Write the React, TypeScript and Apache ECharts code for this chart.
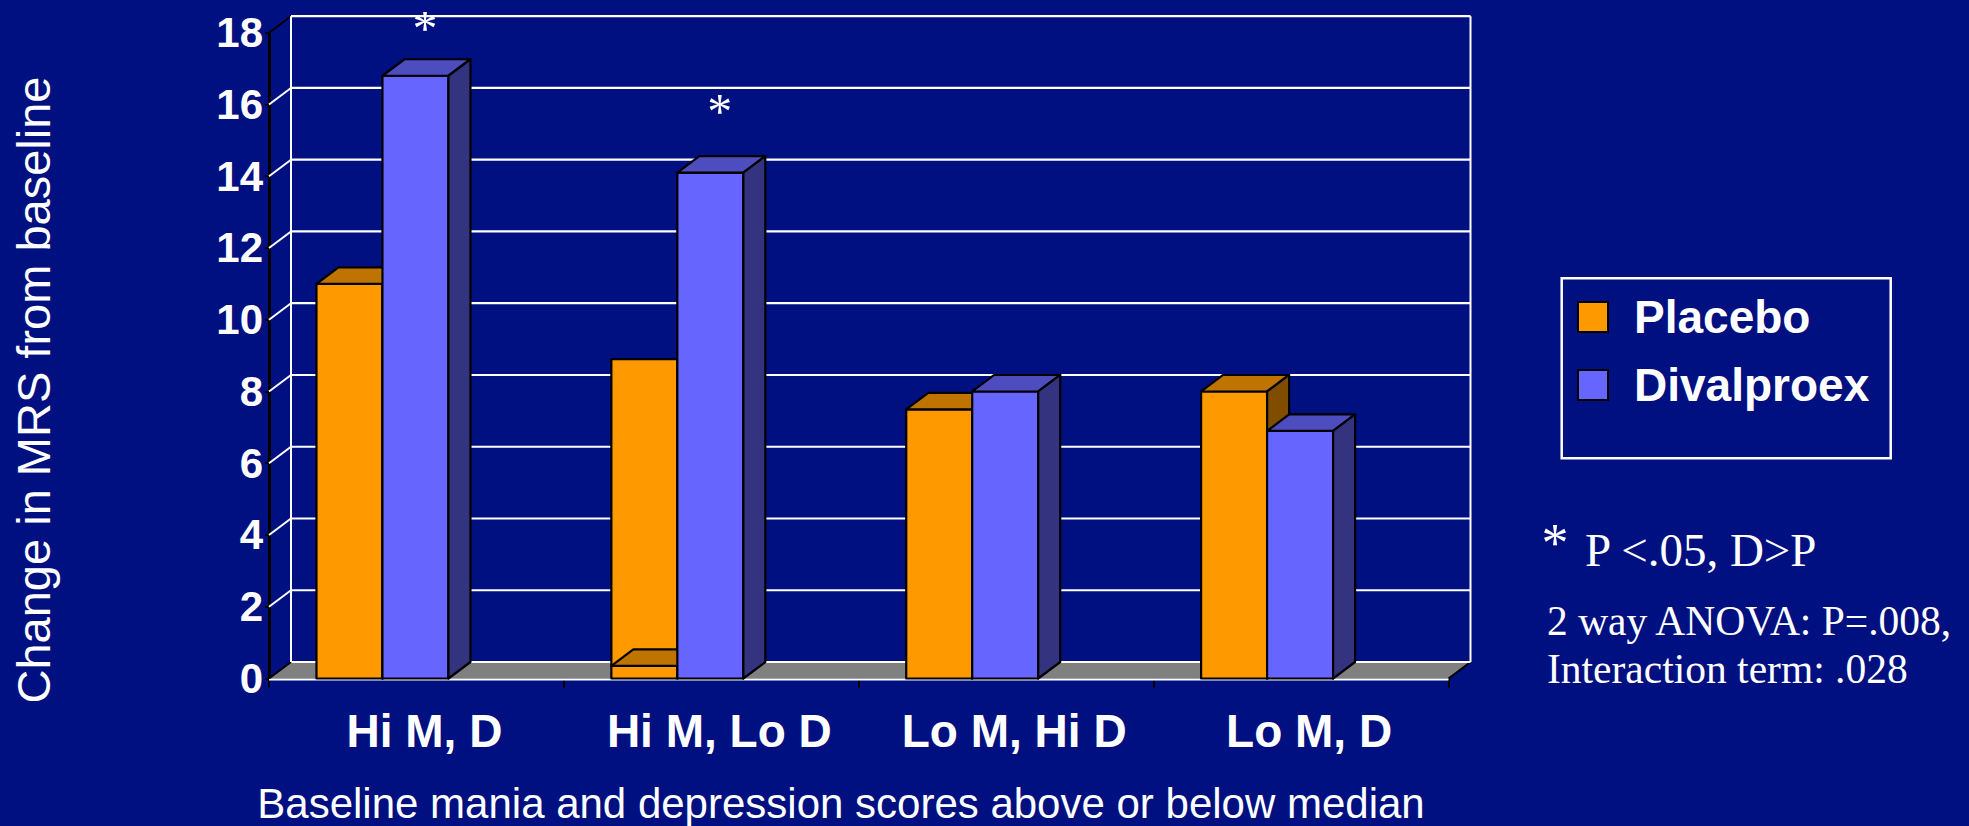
import React, { useEffect, useRef } from 'react';
import * as echarts from 'echarts';

const categories = ['Hi M, D', 'Hi M, Lo D', 'Lo M, Hi D', 'Lo M, D'];
const placebo = [11.0, 8.9, 7.5, 8.0];
// level at which the top face of each placebo bar is drawn (the 2nd is drawn near the floor in the original)
const placeboTopFace = [11.0, 0.35, 7.5, 8.0];
const divalproex = [16.8, 14.1, 8.0, 6.9];
const yTicks = [0, 2, 4, 6, 8, 10, 12, 14, 16, 18];
const asteriskCategory = [0, 1];
const asteriskLevel = [18.3, 16.0];
const seriesNames = ['Placebo', 'Divalproex'];
const yTitle = 'Change in MRS from baseline';
const xTitle = 'Baseline mania and depression scores above or below median';
const noteStar = '*';
const noteLines = ['P <.05, D>P', '2 way ANOVA: P=.008,', 'Interaction term: .028'];

const BG = '#001080';
const DX = 22;
const DY = -16.5;
const SANS = '"Liberation Sans", Arial, sans-serif';
const SERIF = '"Liberation Serif", "Times New Roman", serif';

const COLORS = [
  { front: '#FF9900', top: '#BF7300', side: '#7F4C00' },
  { front: '#6666FF', top: '#4D4DBF', side: '#333380' },
];

function makeBar(slot: number) {
  const c = COLORS[slot];
  return (params: any, api: any) => {
    const i = api.value(0);
    const v = api.value(1);
    const cap = api.value(2);
    const base = api.coord([i, 0]);
    const cx = base[0];
    const y0 = base[1];
    const yt = api.coord([i, v])[1];
    const yc = api.coord([i, cap])[1];
    const band = api.size([1, 0])[0];
    const w = band * 0.2238;
    const xl = cx - band * 0.339 + slot * w;
    const xr = xl + w;
    const stroke = { stroke: '#000', lineWidth: 2.2, lineJoin: 'round' };
    const children: any[] = [
      { type: 'rect', shape: { x: xl, y: yt, width: w, height: y0 - yt }, style: { fill: c.front, ...stroke } },
    ];
    if (Math.abs(cap - v) > 1e-6) {
      children.push({ type: 'line', shape: { x1: xl, y1: yc, x2: xr, y2: yc }, style: { ...stroke } });
    }
    children.push({
      type: 'polygon',
      shape: { points: [[xl, yc], [xr, yc], [xr + DX, yc + DY], [xl + DX, yc + DY]] },
      style: { fill: c.top, ...stroke },
    });
    children.push({
      type: 'polygon',
      shape: { points: [[xr, yc], [xr + DX, yc + DY], [xr + DX, y0 + DY], [xr, y0]] },
      style: { fill: c.side, ...stroke },
    });
    return { type: 'group', children };
  };
}

function wallItem(params: any, api: any) {
  const cs = params.coordSys;
  const v = api.value(1);
  const y = api.coord([0, v])[1];
  const x0 = cs.x;
  const x1 = cs.x + cs.width;
  const vMin = yTicks[0];
  const vMax = yTicks[yTicks.length - 1];
  const children: any[] = [];
  if (v === vMin) {
    children.push({
      type: 'polygon',
      shape: { points: [[x0, y], [x1, y], [x1 + DX, y + DY], [x0 + DX, y + DY]] },
      style: { fill: '#808080' },
    });
    children.push({ type: 'line', shape: { x1: x1, y1: y, x2: x1 + DX, y2: y + DY }, style: { stroke: '#000', lineWidth: 2 } });
    children.push({ type: 'line', shape: { x1: x0, y1: y + 1, x2: x1, y2: y + 1 }, style: { stroke: '#fff', lineWidth: 2 } });
  }
  children.push({
    type: 'line',
    shape: { x1: x0 + DX, y1: y + DY, x2: x1 + DX, y2: y + DY },
    style: { stroke: '#fff', lineWidth: 2.2 },
  });
  children.push({
    type: 'line',
    shape: { x1: x0, y1: y, x2: x0 + DX, y2: y + DY },
    style: { stroke: v === vMin || v === vMax ? '#000' : '#fff', lineWidth: 2 },
  });
  if (v === vMax) {
    const yb = api.coord([0, vMin])[1] + DY;
    children.push({ type: 'line', shape: { x1: x0 + DX, y1: y + DY, x2: x0 + DX, y2: yb }, style: { stroke: '#fff', lineWidth: 2 } });
    children.push({ type: 'line', shape: { x1: x1 + DX, y1: y + DY, x2: x1 + DX, y2: yb }, style: { stroke: '#fff', lineWidth: 2 } });
  }
  return { type: 'group', children };
}

function asteriskItem(params: any, api: any) {
  const p = api.coord([api.value(0), api.value(1)]);
  return {
    type: 'text',
    x: p[0] + 8.5,
    y: p[1] + 6.5,
    style: {
      text: '*',
      fill: '#fff',
      font: `50px ${SERIF}`,
      lineHeight: 26,
      align: 'center',
      verticalAlign: 'middle',
      textAlign: 'center',
      textVerticalAlign: 'middle',
    },
  };
}

export default function App() {
  const ref = useRef<HTMLDivElement>(null);
  useEffect(() => {
    document.body.style.margin = '0';
    document.body.style.background = BG;
    const chart = echarts.init(ref.current!, null, { renderer: 'svg' });
    const option: any = {
      animation: false,
      backgroundColor: BG,
      grid: { left: 269, top: 32.7, width: 1179.5, height: 645.8, containLabel: false },
      legend: {
        data: seriesNames,
        orient: 'vertical',
        left: 1577,
        top: 294,
        padding: 0,
        itemWidth: 30,
        itemHeight: 30,
        itemGap: 22,
        icon: 'rect',
        selectedMode: false,
        itemStyle: { borderColor: '#000', borderWidth: 2 },
        textStyle: {
          color: '#fff',
          fontSize: 46,
          fontWeight: 'bold',
          fontFamily: SANS,
          lineHeight: 46,
          padding: [0, 0, 0, 21],
        },
      },
      xAxis: {
        type: 'category',
        data: categories,
        boundaryGap: true,
        axisLine: { show: false },
        axisTick: { show: true, interval: 0, length: 9, lineStyle: { color: '#000', width: 2 } },
        axisLabel: {
          interval: 0,
          color: '#fff',
          fontSize: 46,
          fontWeight: 'bold',
          fontFamily: SANS,
          margin: 52,
          verticalAlign: 'middle',
          padding: [0, 0, 0, 16],
        },
        splitLine: { show: false },
      },
      yAxis: {
        type: 'value',
        min: yTicks[0],
        max: yTicks[yTicks.length - 1],
        interval: yTicks[1] - yTicks[0],
        axisLine: { show: true, lineStyle: { color: '#000', width: 3 } },
        axisTick: { show: true, length: 4, lineStyle: { color: '#000', width: 2 } },
        axisLabel: { color: '#fff', fontSize: 42, fontWeight: 'bold', fontFamily: SANS, margin: 6 },
        splitLine: { show: false },
      },
      series: [
        {
          type: 'custom',
          name: 'wall',
          silent: true,
          renderItem: wallItem,
          encode: { x: 0, y: 1 },
          data: yTicks.map((v) => [0, v]),
          z: 1,
        },
        {
          type: 'custom',
          name: seriesNames[0],
          renderItem: makeBar(0),
          encode: { x: 0, y: 1 },
          itemStyle: { color: COLORS[0].front },
          data: placebo.map((v, i) => [i, v, placeboTopFace[i]]),
          z: 2,
        },
        {
          type: 'custom',
          name: seriesNames[1],
          renderItem: makeBar(1),
          encode: { x: 0, y: 1 },
          itemStyle: { color: COLORS[1].front },
          data: divalproex.map((v, i) => [i, v, v]),
          z: 3,
        },
        {
          type: 'custom',
          name: 'asterisks',
          silent: true,
          renderItem: asteriskItem,
          encode: { x: 0, y: 1 },
          data: asteriskCategory.map((c, k) => [c, asteriskLevel[k]]),
          z: 4,
        },
      ],
      graphic: [
        {
          type: 'text',
          x: 33,
          y: 390,
          rotation: Math.PI / 2,
          style: {
            text: yTitle,
            fill: '#fff',
            font: `47px ${SANS}`,
            align: 'center',
            verticalAlign: 'middle',
            textAlign: 'center',
            textVerticalAlign: 'middle',
          },
        },
        {
          type: 'text',
          x: 841,
          y: 803,
          style: {
            text: xTitle,
            fill: '#fff',
            font: `42px ${SANS}`,
            align: 'center',
            verticalAlign: 'middle',
            textAlign: 'center',
            textVerticalAlign: 'middle',
          },
        },
        {
          type: 'rect',
          shape: { x: 1561.7, y: 278.3, width: 329, height: 180 },
          style: { fill: 'none', stroke: '#fff', lineWidth: 2.5 },
        },
        {
          type: 'text',
          x: 1541.5,
          y: 543,
          style: { text: noteStar, fill: '#fff', font: `54px ${SERIF}`, lineHeight: 30, align: 'left', verticalAlign: 'middle', textAlign: 'left', textVerticalAlign: 'middle' },
        },
        {
          type: 'text',
          x: 1585,
          y: 550,
          style: { text: noteLines[0], fill: '#fff', font: `47px ${SERIF}`, align: 'left', verticalAlign: 'middle', textAlign: 'left', textVerticalAlign: 'middle' },
        },
        {
          type: 'text',
          x: 1547,
          y: 621,
          style: { text: noteLines[1], fill: '#fff', font: `41.5px ${SERIF}`, align: 'left', verticalAlign: 'middle', textAlign: 'left', textVerticalAlign: 'middle' },
        },
        {
          type: 'text',
          x: 1547,
          y: 669,
          style: { text: noteLines[2], fill: '#fff', font: `41.5px ${SERIF}`, align: 'left', verticalAlign: 'middle', textAlign: 'left', textVerticalAlign: 'middle' },
        },
      ],
    };
    chart.setOption(option);
    return () => chart.dispose();
  }, []);
  return <div ref={ref} style={{ position: 'absolute', left: 0, top: 0, width: 1969, height: 826 }} />;
}
